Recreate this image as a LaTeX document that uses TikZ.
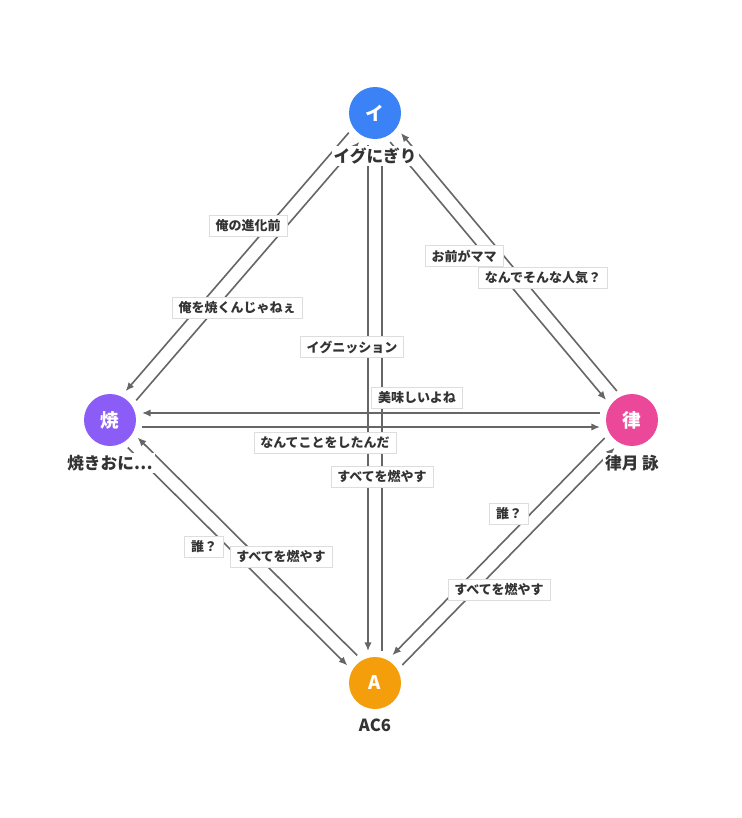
\documentclass[tikz,border=0pt]{standalone}
\usepackage{fontspec}
\setmainfont{Noto Sans CJK JP}
\usepackage{tikz}
\usetikzlibrary{arrows.meta, calc}
\definecolor{iblue}{HTML}{3B82F6}
\definecolor{ypurple}{HTML}{8B5CF6}
\definecolor{rpink}{HTML}{EC4899}
\definecolor{aorange}{HTML}{F59E0B}
\definecolor{linegray}{HTML}{666666}
\definecolor{textgray}{HTML}{333333}
\definecolor{boxgray}{HTML}{DDDDDD}

\begin{document}
\begin{tikzpicture}[x=0.75pt, y=-0.75pt,
  person/.style={circle, minimum size=39pt, inner sep=0pt, text=white,
    font=\fontsize{14}{14}\selectfont\bfseries},
  who/.style={fill=white, inner sep=1.5pt, text=textgray,
    font=\fontsize{12.5}{13}\selectfont\bfseries},
  rel/.style={linegray, line width=1.2pt, -{Latex[length=6.5pt,width=5.5pt]},
    shorten <=24pt, shorten >=24pt},
  relbox/.style={fill=white, draw=boxgray, line width=0.5pt, inner xsep=4.8pt,
    inner ysep=0pt, minimum height=15.75pt, text=textgray,
    font=\fontsize{9.75}{10}\selectfont\bfseries}]
  \useasboundingbox[fill=white] (0,0) rectangle (742,818);

  % People
  \node[person, fill=iblue]   (I) at (375,113) {イ};
  \node[person, fill=ypurple] (Y) at (110,420) {焼};
  \node[person, fill=rpink]   (R) at (632,420) {律};
  \node[person, fill=aorange] (A) at (375,683) {A};

  % Relations, each one shifted to its right
  \foreach \a/\b in {I/Y, Y/I, I/R, R/I, I/A, A/I, Y/R, R/Y, Y/A, A/Y, R/A, A/R}
    \draw[rel] ($(\a)!5.25pt!-90:(\b)$) -- ($(\b)!5.25pt!90:(\a)$);

  % Names
  \node[who] (Ilbl) at (375,156) {イグにぎり};
  \node[who] (Ylbl) at (110,463) {焼きおに⋯};
  \node[who] (Rlbl) at (632,463) {律月 詠};
  \node[who] (Albl) at (375,725) {AC6};

  % Relation labels
  \node[relbox] (iy) at (248,226) {俺の進化前};
  \node[relbox] (yi) at (237,308) {俺を焼くんじゃねぇ};
  \node[relbox] (ir) at (464,256) {お前がママ};
  \node[relbox] (ri) at (543,278) {なんでそんな人気？};
  \node[relbox] (ia) at (352,347) {イグニッション};
  \node[relbox] (ry) at (417,398) {美味しいよね};
  \node[relbox] (yr) at (325,443) {なんてことをしたんだ};
  \node[relbox] (ai) at (382,477) {すべてを燃やす};
  \node[relbox] (ay) at (204,547) {誰？};
  \node[relbox] (ya) at (281,557) {すべてを燃やす};
  \node[relbox] (ar) at (509,514) {誰？};
  \node[relbox] (ra) at (499,590) {すべてを燃やす};
\end{tikzpicture}
\end{document}
